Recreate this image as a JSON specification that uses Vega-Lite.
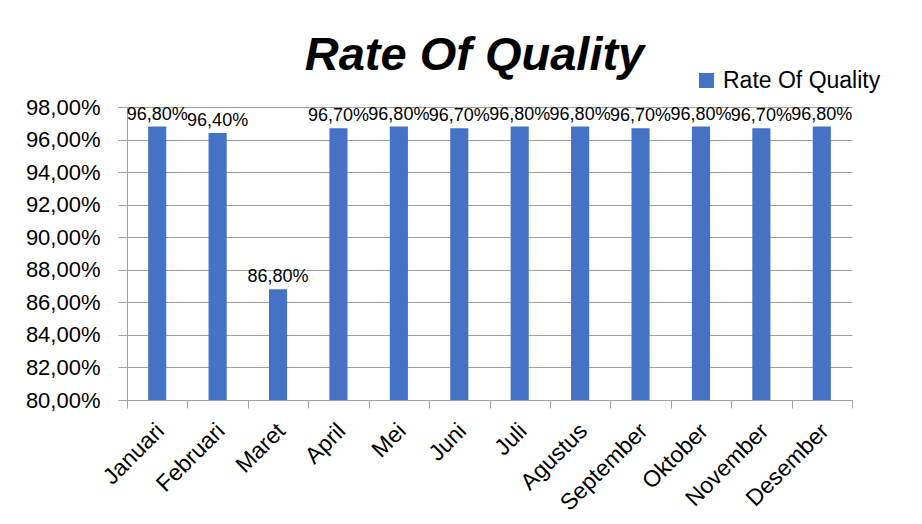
{
  "$schema": "https://vega.github.io/schema/vega-lite/v6.json",
  "autosize": {"type": "none"},
  "width": 725,
  "height": 293,
  "padding": {"left": 127, "top": 107, "right": 70, "bottom": 124},
  "background": "#ffffff",
  "title": {
    "text": "Rate Of Quality",
    "font": "Liberation Sans",
    "fontSize": 47,
    "fontStyle": "italic",
    "fontWeight": "bold",
    "color": "#000000",
    "anchor": "middle",
    "frame": "group",
    "baseline": "alphabetic",
    "dx": -15,
    "offset": -48
  },
  "data": {
    "values": [
      {"bulan": "Januari", "rate": 0.968},
      {"bulan": "Februari", "rate": 0.964},
      {"bulan": "Maret", "rate": 0.868},
      {"bulan": "April", "rate": 0.967},
      {"bulan": "Mei", "rate": 0.968},
      {"bulan": "Juni", "rate": 0.967},
      {"bulan": "Juli", "rate": 0.968},
      {"bulan": "Agustus", "rate": 0.968},
      {"bulan": "September", "rate": 0.967},
      {"bulan": "Oktober", "rate": 0.968},
      {"bulan": "November", "rate": 0.967},
      {"bulan": "Desember", "rate": 0.968}
    ]
  },
  "encoding": {
    "x": {
      "field": "bulan",
      "type": "nominal",
      "sort": null,
      "scale": {"paddingInner": 0, "paddingOuter": 0},
      "axis": {
        "title": null,
        "tickBand": "extent",
        "tickSize": 8,
        "tickColor": "#a0a0a0",
        "domainColor": "#a0a0a0",
        "labelAngle": -45,
        "labelAlign": "right",
        "labelBaseline": "middle",
        "labelPadding": 19,
        "labelOffset": 3,
        "labelFont": "Liberation Sans",
        "labelFontSize": 23,
        "labelColor": "#000000"
      }
    },
    "y": {
      "field": "rate",
      "type": "quantitative",
      "scale": {"domain": [0.8, 0.98], "nice": false, "zero": false, "clamp": true},
      "axis": {
        "title": null,
        "values": [0.8, 0.82, 0.84, 0.86, 0.88, 0.9, 0.92, 0.94, 0.96, 0.98],
        "format": ".2%",
        "grid": true,
        "gridColor": "#a0a0a0",
        "gridOpacity": 1,
        "tickSize": 9,
        "tickColor": "#a0a0a0",
        "domainColor": "#a0a0a0",
        "labelPadding": 18,
        "labelFont": "Liberation Sans",
        "labelFontSize": 22,
        "labelColor": "#000000"
      }
    }
  },
  "layer": [
    {
      "mark": {"type": "bar", "width": {"band": 0.3}},
      "encoding": {
        "color": {
          "datum": "Rate Of Quality",
          "type": "nominal",
          "scale": {"range": ["#4472C4"]},
          "legend": {
            "title": null,
            "orient": "none",
            "legendX": 568,
            "legendY": -38,
            "symbolType": "square",
            "symbolSize": 225,
            "symbolStrokeWidth": 0,
            "labelFont": "Liberation Sans",
            "labelFontSize": 23,
            "labelColor": "#000000",
            "labelOffset": 5
          }
        }
      }
    },
    {
      "mark": {
        "type": "text",
        "font": "Liberation Sans",
        "fontSize": 18,
        "color": "#000000",
        "baseline": "alphabetic",
        "dy": -7
      },
      "encoding": {
        "text": {"field": "rate", "type": "quantitative", "format": ".2%"}
      }
    }
  ],
  "config": {
    "view": {"stroke": null},
    "locale": {
      "number": {
        "decimal": ",",
        "thousands": ".",
        "grouping": [3],
        "currency": ["", " €"]
      }
    }
  }
}
